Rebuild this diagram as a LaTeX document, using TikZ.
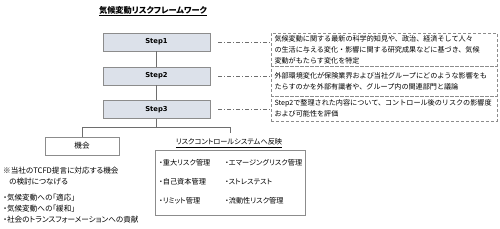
\documentclass[tikz,border=0pt]{standalone}
\usepackage{fontspec}
\setmainfont{Noto Sans CJK JP}[RawFeature=+palt]
\newfontfamily\jpwide{Noto Sans CJK JP}
\newfontfamily\stepfont{DejaVu Sans}
\usepackage{tikz}
\usetikzlibrary{positioning,calc,shadows}

\definecolor{stepfill}{RGB}{220,225,234}
\definecolor{frame}{RGB}{140,140,140}
\definecolor{linkgray}{RGB}{110,110,110}

\begin{document}
\begin{tikzpicture}[
    x=1pt, y=-1pt,
    stepbox/.style={rectangle, draw=frame, fill=stepfill, minimum width=107pt, minimum height=18pt, inner sep=0pt,
        font=\stepfont\bfseries\fontsize{6.8}{8}\selectfont,
        drop shadow={shadow xshift=0.8pt, shadow yshift=-0.8pt, fill=black!40, opacity=1}},
    descbox/.style={rectangle, draw=frame, densely dashed, minimum width=226pt, inner xsep=3.5pt, inner ysep=0pt,
        align=left, text width=219pt, font=\jpwide\fontsize{7.1}{11}\selectfont},
    plainbox/.style={rectangle, draw=frame, fill=white, align=center, inner sep=0pt, font=\fontsize{7.6}{10}\selectfont},
    link/.style={draw=linkgray, line width=0.6pt},
    guide/.style={draw=linkgray, line width=0.5pt, dash pattern=on 4pt off 2pt on 1pt off 2pt},
    label/.style={font=\fontsize{7.6}{11}\selectfont, align=left, inner sep=0pt},
    item/.style={font=\fontsize{7.2}{10}\selectfont, anchor=west, inner sep=0pt}
]
\useasboundingbox (0,0) rectangle (500,228);

% Title
\node[font=\bfseries\fontsize{8.2}{10}\selectfont] (title) at (153,11) {\underline{気候変動リスクフレームワーク}};

% Steps
\node[stepbox] (step1) at (156.5,42) {Step1};
\node[stepbox] (step2) at (156.5,76) {Step2};
\node[stepbox] (step3) at (156.5,109.5) {Step3};

% Descriptions
\node[descbox, minimum height=33pt] (desc1) at (384,49.5) {気候変動に関する最新の科学的知見や、政治、経済そして人々\\の生活に与える変化・影響に関する研究成果などに基づき、気候\\変動がもたらす変化を特定};
\node[descbox, minimum height=30pt] (desc2) at (384,81) {外部環境変化が保険業界および当社グループにどのような影響をも\\たらすのかを外部有識者や、グループ内の関連部門と議論};
\node[descbox, minimum height=25pt] (desc3) at (384,108.5) {Step2で整理された内容について、コントロール後のリスクの影響度\\および可能性を評価};

% Outcomes
\node[plainbox, minimum width=74pt, minimum height=18pt] (kikai) at (82,146) {機会};
\coordinate (split) at (156.5,127);
\coordinate (rcs_end) at (230,133);
\node[label, font=\fontsize{7.2}{10}\selectfont] (rcs) at (229,143) {\underline{リスクコントロールシステムへ反映}};
\node[plainbox, minimum width=150pt, minimum height=65pt,
    drop shadow={shadow xshift=1pt, shadow yshift=-1pt, fill=black!35, opacity=1}] (riskbox) at (230,182.5) {};

\node[item] (r1) at (159,163) {・重大リスク管理};
\node[item] (r2) at (159,182) {・自己資本管理};
\node[item] (r3) at (159,201) {・リミット管理};
\node[item] (r4) at (225,163) {・エマージングリスク管理};
\node[item] (r5) at (225,182) {・ストレステスト};
\node[item] (r6) at (225,201) {・流動性リスク管理};

% Notes on opportunities
\node[label, anchor=north west] (note) at (3,167) {※当社のTCFD提言に対応する機会\\\hspace*{6pt}の検討につなげる};
\node[label, anchor=north west] (effects) at (3,194) {・気候変動への「適応」\\・気候変動への「緩和」\\・社会のトランスフォーメーションへの貢献};

% Connectors
\draw[link] (step1) -- (step2);
\draw[link] (step2) -- (step3);
\draw[link] (step3) -- (split);
\draw[link] (split) -| (kikai.north);
\draw[link] (split) -| (rcs_end);

\draw[guide] (step1.east) ++(8,0) -- (desc1.west |- step1.east);
\draw[guide] (step2.east) ++(8,0) -- (desc2.west |- step2.east);
\draw[guide] (step3.east) ++(8,0) -- (desc3.west |- step3.east);

\end{tikzpicture}
\end{document}
